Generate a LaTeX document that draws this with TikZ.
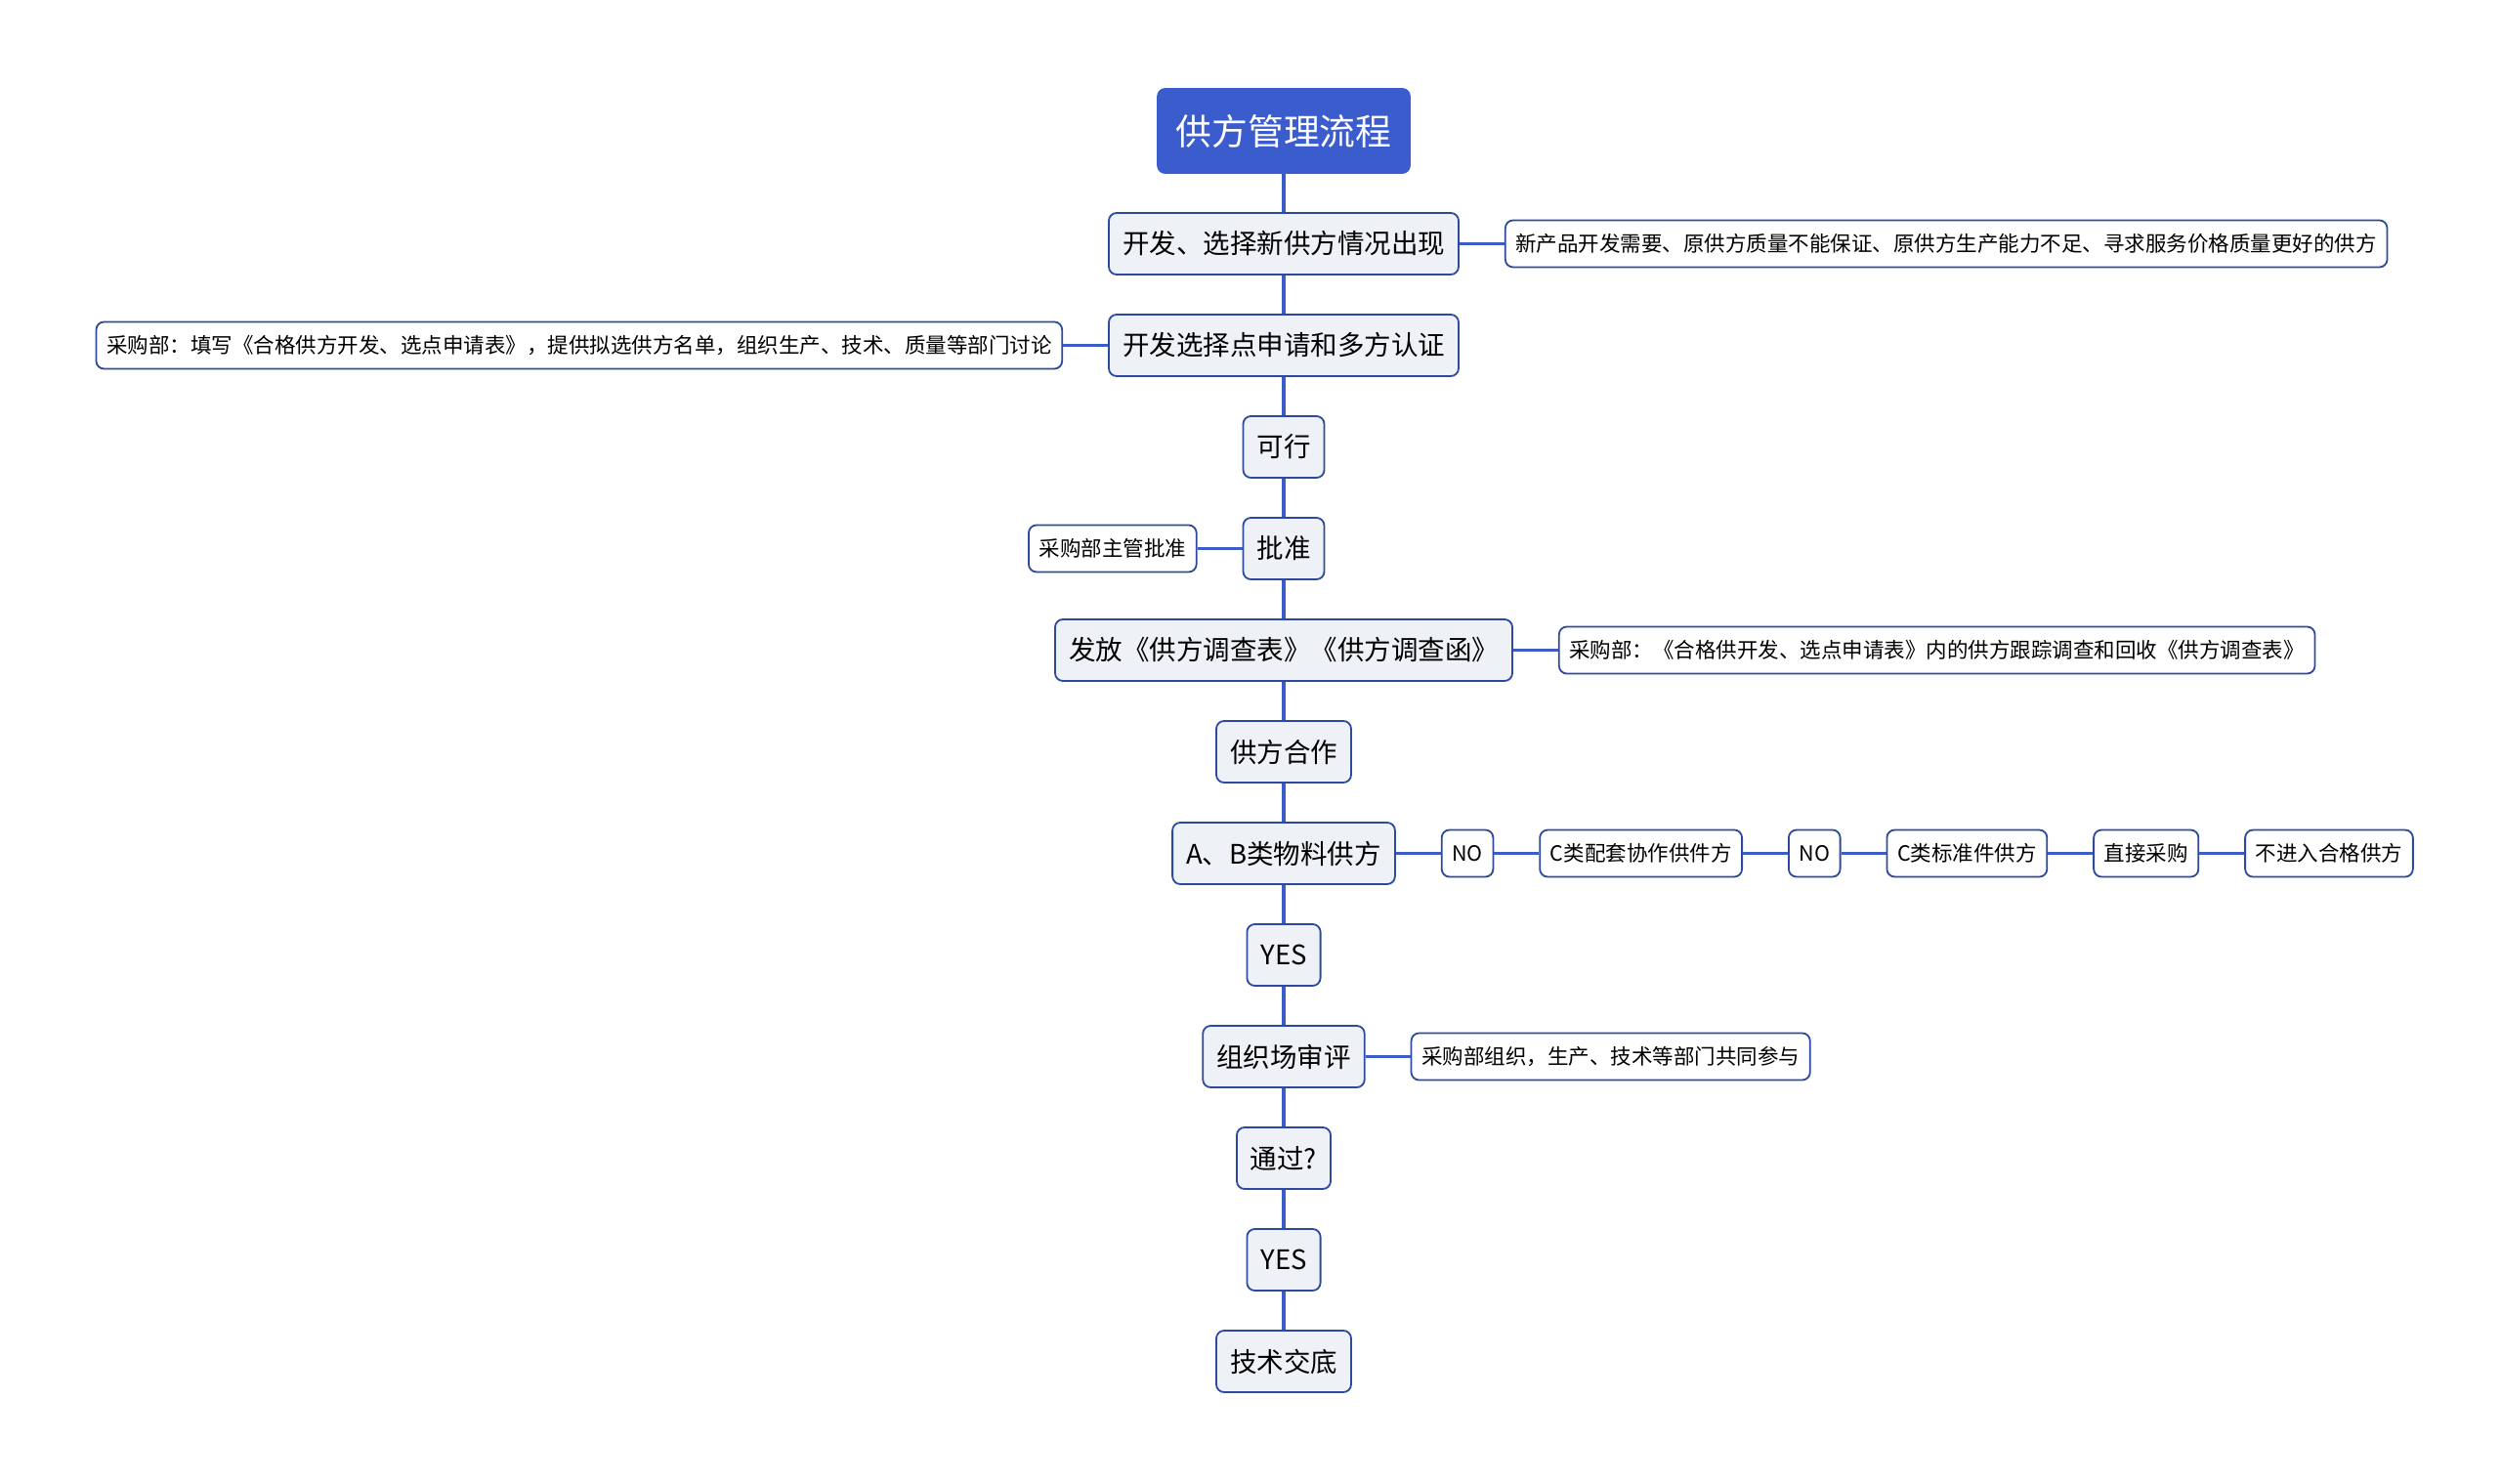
\documentclass[tikz,border=0pt]{standalone}
\usepackage{fontspec}
\newfontfamily\cjk{Noto Sans CJK SC}
\usetikzlibrary{positioning}
\definecolor{topicblue}{HTML}{3B5CCC}
\definecolor{edgeblue}{HTML}{2C4A9E}
\definecolor{linkblue}{HTML}{3D5DC6}
\definecolor{stepfill}{HTML}{EEF1F6}

\begin{document}
\begin{tikzpicture}[node distance=19.6pt and 23pt]
    \tikzstyle{topic} = [rectangle, rounded corners=4pt, draw=topicblue, fill=topicblue, text=white, font=\cjk\fontsize{18.4pt}{22pt}\selectfont, minimum height=43.5pt, inner xsep=9.5pt]
    \tikzstyle{main} = [rectangle, rounded corners=4pt, draw=edgeblue, line width=0.9pt, fill=stepfill, font=\cjk\fontsize{13.75pt}{16pt}\selectfont, minimum height=31.5pt, inner xsep=7pt]
    \tikzstyle{note} = [rectangle, rounded corners=4pt, draw=edgeblue, line width=0.9pt, fill=white, font=\cjk\fontsize{10.75pt}{13pt}\selectfont, minimum height=24pt, inner xsep=5.3pt]
    \tikzstyle{link} = [draw=linkblue, line width=1.6pt]

    \useasboundingbox (0,0) rectangle (1280pt,-759.5pt);

    % Main column
    \node[topic] (topic) at (657pt,-67pt) {供方管理流程};
    \node[main] (kfxz) [below=of topic] {开发、选择新供方情况出现};
    \node[main] (sqrz) [below=of kfxz] {开发选择点申请和多方认证};
    \node[main] (kx) [below=of sqrz] {可行};
    \node[main] (pz) [below=of kx] {批准};
    \node[main] (ffdc) [below=of pz] {发放《供方调查表》《供方调查函》};
    \node[main] (gfhz) [below=of ffdc] {供方合作};
    \node[main] (abwl) [below=of gfhz] {A、B类物料供方};
    \node[main] (yes1) [below=of abwl] {YES};
    \node[main] (zzsp) [below=of yes1] {组织场审评};
    \node[main] (tg) [below=of zzsp] {通过?};
    \node[main] (yes2) [below=of tg] {YES};
    \node[main] (jsjd) [below=of yes2] {技术交底};

    % Side notes
    \node[note] (kfxz_note) [right=of kfxz] {新产品开发需要、原供方质量不能保证、原供方生产能力不足、寻求服务价格质量更好的供方};
    \node[note] (sqrz_note) [left=of sqrz] {采购部：填写《合格供方开发、选点申请表》，提供拟选供方名单，组织生产、技术、质量等部门讨论};
    \node[note] (pz_note) [left=of pz] {采购部主管批准};
    \node[note] (ffdc_note) [right=of ffdc] {采购部：《合格供开发、选点申请表》内的供方跟踪调查和回收《供方调查表》};
    \node[note] (zzsp_note) [right=of zzsp] {采购部组织，生产、技术等部门共同参与};

    % NO branch
    \node[note] (no1) [right=of abwl] {NO};
    \node[note] (cpt) [right=of no1] {C类配套协作供件方};
    \node[note] (no2) [right=of cpt] {NO};
    \node[note] (cbz) [right=of no2] {C类标准件供方};
    \node[note] (zjcg) [right=of cbz] {直接采购};
    \node[note] (bjr) [right=of zjcg] {不进入合格供方};

    % Connectors
    \draw[link] (topic) -- (kfxz);
    \draw[link] (kfxz) -- (sqrz);
    \draw[link] (sqrz) -- (kx);
    \draw[link] (kx) -- (pz);
    \draw[link] (pz) -- (ffdc);
    \draw[link] (ffdc) -- (gfhz);
    \draw[link] (gfhz) -- (abwl);
    \draw[link] (abwl) -- (yes1);
    \draw[link] (yes1) -- (zzsp);
    \draw[link] (zzsp) -- (tg);
    \draw[link] (tg) -- (yes2);
    \draw[link] (yes2) -- (jsjd);
    \draw[link] (kfxz) -- (kfxz_note);
    \draw[link] (sqrz) -- (sqrz_note);
    \draw[link] (pz) -- (pz_note);
    \draw[link] (ffdc) -- (ffdc_note);
    \draw[link] (zzsp) -- (zzsp_note);
    \draw[link] (abwl) -- (no1);
    \draw[link] (no1) -- (cpt);
    \draw[link] (cpt) -- (no2);
    \draw[link] (no2) -- (cbz);
    \draw[link] (cbz) -- (zjcg);
    \draw[link] (zjcg) -- (bjr);
\end{tikzpicture}
\end{document}
